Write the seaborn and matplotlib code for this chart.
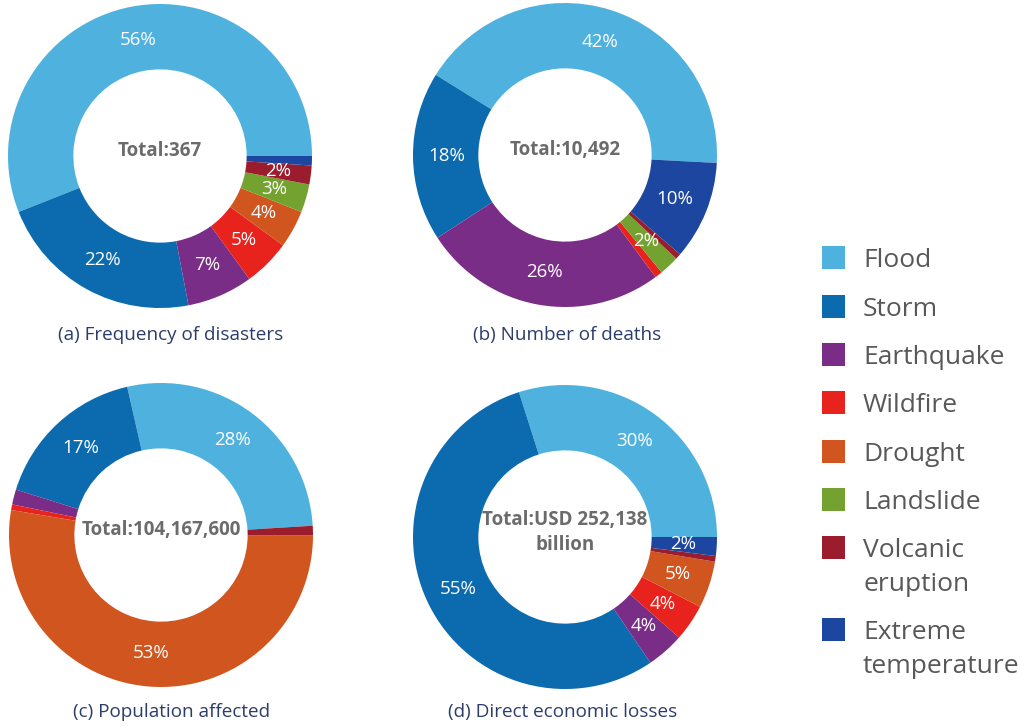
import matplotlib
matplotlib.use("Agg")
import numpy as np
import matplotlib.pyplot as plt
from matplotlib.patches import Rectangle
import seaborn as sns

sns.set_theme(style="white")
plt.rcParams["font.family"] = ["Open Sans", "DejaVu Sans"]

# Disaster categories and their colours
categories = ["Flood", "Storm", "Earthquake", "Wildfire", "Drought",
              "Landslide", "Volcanic\neruption", "Extreme\ntemperature"]
colors = ["#4fb2de", "#0c6aae", "#7a2d87", "#e8221c", "#d0551e",
          "#73a230", "#9a1c2d", "#1c469f"]
palette = sns.color_palette(colors)

# Shares (%) per category for each panel
frequency = [56, 22, 7, 5, 4, 3, 2, 1]
deaths = [42, 18, 26, 0.8, 0, 2.1, 0.6, 10.5]
population = [27.6, 16.6, 1.6, 0.6, 52.6, 0, 1.0, 0]
losses = [29.9, 54.6, 4.0, 3.9, 5.0, 0, 0.6, 2.0]

panel_values = [frequency, deaths, population, losses]
panel_titles = ["(a) Frequency of disasters", "(b) Number of deaths",
                "(c) Population affected", "(d) Direct economic losses"]
panel_totals = ["Total:367", "Total:10,492", "Total:104,167,600",
                "Total:USD 252,138\nbillion"]
# which wedges carry a percentage label
panel_labelled = [
    {0, 1, 2, 3, 4, 5, 6},
    {0, 1, 2, 5, 7},
    {0, 1, 4},
    {0, 1, 2, 3, 4, 7},
]
panel_start = [0, -3, 3.5, 0]

W, H = 1022, 727
fig = plt.figure(figsize=(W / 100, H / 100), dpi=100)
fig.patch.set_facecolor("white")

R = 152
centers = [(160, 156), (565, 155), (161, 535), (565, 537)]
title_pos = [(171, 335), (567, 335), (172, 712), (563, 712)]

for k in range(4):
    cx, cy = centers[k]
    ax = fig.add_axes([(cx - R) / W, (H - cy - R) / H, 2 * R / W, 2 * R / H])
    vals = panel_values[k]
    wedges, _ = ax.pie(
        vals, colors=palette, startangle=panel_start[k], counterclock=True,
        radius=1.0, wedgeprops=dict(width=0.43, linewidth=0),
    )
    total = sum(vals)
    for i, w in enumerate(wedges):
        if i not in panel_labelled[k] or vals[i] == 0:
            continue
        ang = np.deg2rad((w.theta1 + w.theta2) / 2)
        rr = 0.78
        ax.text(rr * np.cos(ang), rr * np.sin(ang),
                f"{round(vals[i] / total * 100):d}%",
                ha="center", va="center", color="white", fontsize=13.5,
                fontweight="medium")
    ax.text(0, 0.03, panel_totals[k], ha="center", va="center",
            color="#6b6b6b", fontsize=13.5, fontweight="bold", linespacing=1.3)
    ax.set_xlim(-1, 1)
    ax.set_ylim(-1, 1)
    ax.set_aspect("equal")
    ax.axis("off")
    tx, ty = title_pos[k]
    fig.text(tx / W, 1 - ty / H, panel_titles[k], ha="center", va="center",
             color="#2c3d6c", fontsize=13.6)

# Legend drawn as coloured squares with labels
legend_rows = [258, 307, 355, 403, 452, 500, 548, 630]
for i, name in enumerate(categories):
    y = legend_rows[i]
    fig.add_artist(Rectangle(((822) / W, 1 - (y + 11) / H), 23 / W, 23 / H,
                             transform=fig.transFigure, color=palette[i],
                             linewidth=0))
    fig.text(863 / W, 1 - (y - 10) / H, name, ha="left", va="top",
             color="#585858", fontsize=19, linespacing=1.45)

fig.savefig("out.png", dpi=100, facecolor="white")
